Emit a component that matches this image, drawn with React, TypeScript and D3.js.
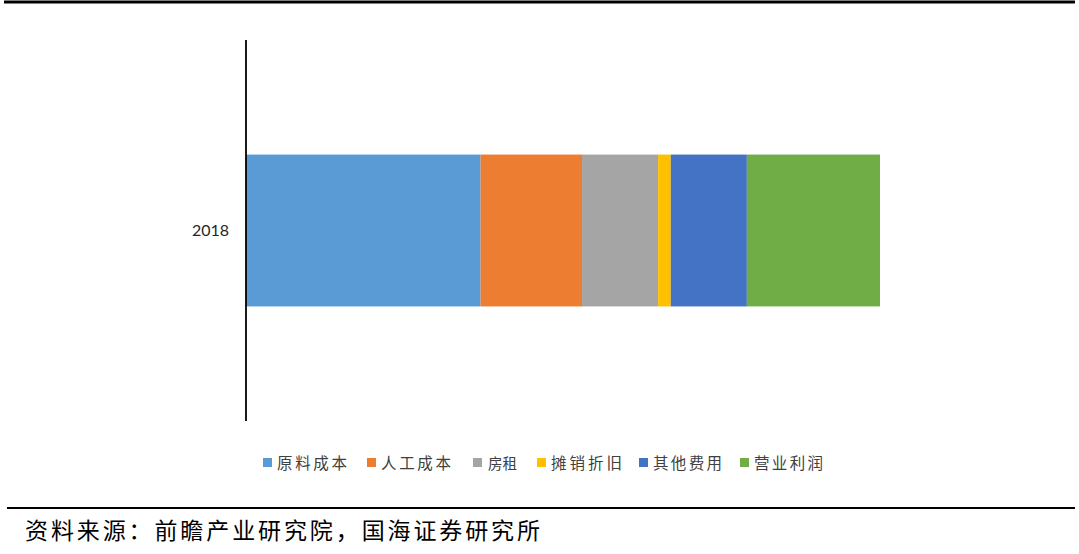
import React from "react";
import * as d3 from "d3";

const categories = ["2018"];
const seriesNames = ["原料成本", "人工成本", "房租", "摊销折旧", "其他费用", "营业利润"];
const seriesValues = [37, 16, 12, 2, 12, 21];
const seriesColors = ["#5b9bd5", "#ed7d31", "#a5a5a5", "#ffc000", "#4472c4", "#70ad47"];
const legendX = [263, 367, 473, 537, 639, 740];
const legendW = [70, 70, 28, 71, 69, 69];
const sourceText = "资料来源：前瞻产业研究院，国海证券研究所";

export default function App() {
  const W = 1079, H = 554;
  const x = d3.scaleLinear().domain([0, 100]).range([246, 880]);
  const y = d3.scaleBand<string>().domain(categories).range([40, 421]).paddingInner(0.43).paddingOuter(0.43);
  const cum = d3.cumsum(seriesValues);
  const starts = seriesValues.map((v, i) => cum[i] - v);
  const cat = categories[0];
  const bw = y.bandwidth();
  const y0 = y(cat) ?? 0;
  return (
    <div style={{ position: "absolute", left: 0, top: 0 }}>
      <svg width={W} height={H} style={{ display: "block", background: "#fff" }}>
        <line x1={4} x2={1075} y1={2} y2={2} stroke="#000" strokeWidth={3} />
        {seriesValues.map((v, i) => (
          <rect key={i} x={x(starts[i])} y={y0} width={x(starts[i] + v) - x(starts[i])} height={bw} fill={seriesColors[i]} />
        ))}
        <line x1={x(0)} x2={x(0)} y1={40} y2={421} stroke="#000" strokeWidth={1.8} />
        <text x={229} y={y0 + bw / 2 + 5.5} textAnchor="end" fontFamily="Lato, 'Noto Sans', sans-serif" fontSize={16} fill="#262626">{cat}</text>
        {seriesNames.map((n, i) => (
          <g key={n}>
            <rect x={legendX[i]} y={458} width={9} height={9} fill={seriesColors[i]} />
            {n.length > 2 ? (
              <text x={legendX[i] + 14} y={469} fontFamily="'Noto Sans CJK SC', sans-serif" fontSize={15.5} fill="#404040" textLength={legendW[i]} lengthAdjust="spacing">{n}</text>
            ) : (
              <text x={legendX[i] + 15} y={469} fontFamily="'Noto Sans CJK SC', sans-serif" fontSize={14.5} fill="#404040">{n}</text>
            )}
          </g>
        ))}
        <line x1={7} x2={1075} y1={508} y2={508} stroke="#000" strokeWidth={2} />
        <text x={25} y={539} fontFamily="'Noto Sans CJK SC', sans-serif" fontSize={23} fill="#000" textLength={515} lengthAdjust="spacing">{sourceText}</text>
      </svg>
    </div>
  );
}
